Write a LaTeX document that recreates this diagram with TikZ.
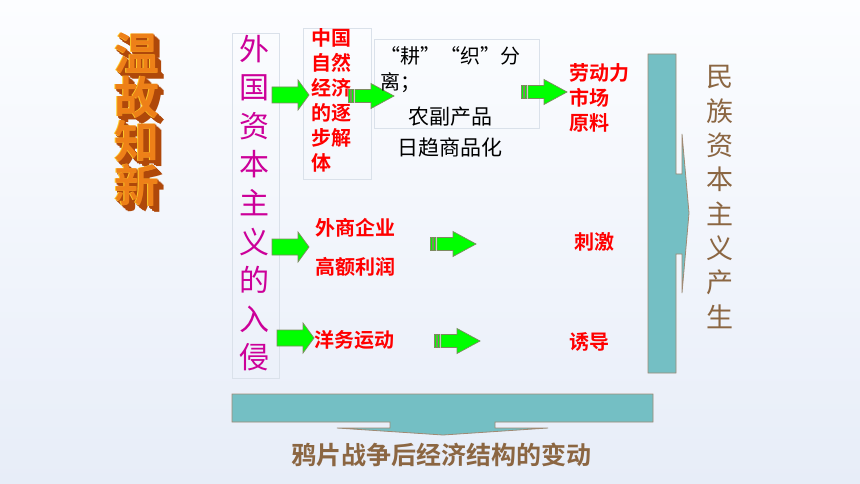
\documentclass[tikz,border=0pt]{standalone}
\usepackage{fontspec}
\setmainfont{Noto Sans CJK SC}[BoldFont={Noto Sans CJK SC Bold}]
\definecolor{bgtop}{RGB}{252,253,255}
\definecolor{bgbot}{RGB}{231,237,248}
\definecolor{frameline}{RGB}{218,225,234}
\definecolor{arrowgreen}{RGB}{0,255,0}
\definecolor{arrowedge}{RGB}{125,138,96}
\definecolor{teal}{RGB}{116,191,196}
\definecolor{tealedge}{RGB}{160,138,116}
\definecolor{brownish}{RGB}{139,102,66}
\definecolor{magentapink}{RGB}{204,0,153}
\definecolor{titleside}{RGB}{175,72,10}
\definecolor{titlefront}{RGB}{238,128,24}
\definecolor{titlelight}{RGB}{255,204,40}

\begin{document}
\begin{tikzpicture}[x=1pt, y=-1pt,
    every node/.style={inner sep=0pt},
    framebox/.style={draw=frameline, line width=0.7pt},
    greenfill/.style={fill=arrowgreen, draw=arrowedge, line width=0.7pt},
    tealshape/.style={fill=teal, draw=tealedge, line width=0.8pt},
    titlefont/.style={font=\fontsize{45}{44}\selectfont\bfseries, align=center},
    redtext/.style={text=red, align=left, anchor=west, font=\fontsize{20}{25}\selectfont\bfseries},
    plainarrow/.pic={
        \filldraw[greenfill] (0,-8) -- (26,-8) -- (26,-15) -- (37,0) -- (26,15) -- (26,8) -- (0,8) -- cycle;
    },
    stripearrow/.pic={
        \filldraw[greenfill] (0,-6.5) rectangle (2,6.5);
        \filldraw[greenfill] (3.5,-6.5) rectangle (5.5,6.5);
        \filldraw[greenfill] (7,-6.5) -- (23,-6.5) -- (23,-12.5) -- (46,0) -- (23,12.5) -- (23,6.5) -- (7,6.5) -- cycle;
    }]
    \useasboundingbox (0,0) rectangle (860,484);
    \shade[top color=bgtop, bottom color=bgbot] (0,0) rectangle (860,484);

    % frames
    \draw[framebox] (232,33) rectangle (279,378);
    \draw[framebox] (303,28) rectangle (371,179);
    \draw[framebox] (374,39) rectangle (539,128);

    % teal brace arrows
    \filldraw[tealshape] (648,54) -- (676,54) -- (676,174) -- (682,174) -- (682,134) -- (689,213)
        -- (682,293) -- (682,254) -- (676,254) -- (676,373) -- (648,373) -- cycle;
    \filldraw[tealshape] (232,394) -- (653,394) -- (653,422) -- (495,422) -- (495,428) -- (548,428)
        -- (443,435) -- (337,428) -- (390,428) -- (390,422) -- (232,422) -- cycle;

    % green arrows
    \pic at (272,95) {plainarrow};
    \pic at (272,247) {plainarrow};
    \pic at (277,338) {plainarrow};
    \pic at (348,96) {stripearrow};
    \pic at (521,92) {stripearrow};
    \pic at (430,244) {stripearrow};
    \pic at (434,341) {stripearrow};

    % title
    \foreach \k in {8,...,1}
        \node[text=titleside, titlefont] at (137+0.7*\k, 120+0.7*\k) {温\\故\\知\\新};
    \node[text=titlelight, titlefont] at (136.2, 119.2) {温\\故\\知\\新};
    \node[text=titlefront, titlefont] (wengu) at (137, 120) {温\\故\\知\\新};

    \node[text=magentapink, font=\fontsize{30}{38.6}\selectfont, align=center]
        (qinru) at (254,203) {外\\国\\资\\本\\主\\义\\的\\入\\侵};
    \node[redtext] (jieti) at (311,100) {中国\\自然\\经济\\的逐\\步解\\体};
    \node[anchor=west, align=left, font=\fontsize{20}{26}\selectfont] (fenli) at (380,70) {“耕”“织”分\\离；};
    \node[align=center, font=\fontsize{21}{31}\selectfont] (shangpin) at (450,132) {农副产品\\日趋商品化};
    \node[redtext] (laodong) at (569,98) {劳动力\\市场\\原料};
    \node[redtext] (waishang) at (315,228) {外商企业};
    \node[redtext] (lirun) at (315,267) {高额利润};
    \node[redtext] (yangwu) at (314,340) {洋务运动};
    \node[redtext] (ciji) at (574,242) {刺激};
    \node[redtext] (youdao) at (569,342) {诱导};
    \node[text=brownish, font=\fontsize{27}{34.3}\selectfont, align=center]
        (minzu) at (720,197) {民\\族\\资\\本\\主\\义\\产\\生};
    \node[text=brownish, font=\fontsize{25}{25}\selectfont\bfseries] (biandong) at (441,455) {鸦片战争后经济结构的变动};
\end{tikzpicture}
\end{document}
